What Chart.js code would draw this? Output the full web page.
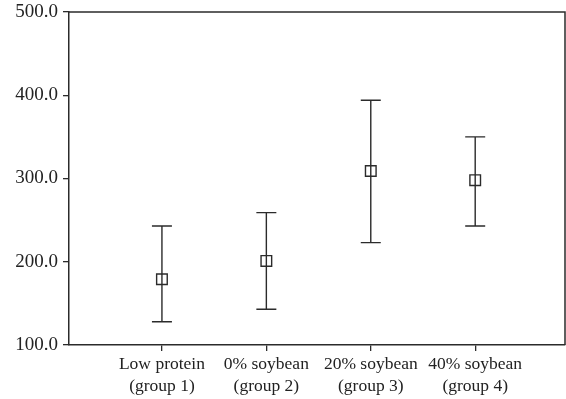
<!DOCTYPE html>
<html>
<head>
<meta charset="utf-8">
<script src="https://cdn.jsdelivr.net/npm/chart.js@4"></script>
<style>
  html, body { margin: 0; padding: 0; background: #fff; }
  #chart { display: block; }
</style>
</head>
<body>
<canvas id="chart" width="566" height="399"></canvas>
<script>
// Группы (подписи по оси X)
const categories = [
  ['Low protein', '(group 1)'],
  ['0% soybean', '(group 2)'],
  ['20% soybean', '(group 3)'],
  ['40% soybean', '(group 4)'],
];

// Средние значения и границы доверительных интервалов
const means = [179, 201, 309, 298];
const upper = [243, 259, 394, 350];
const lower = [128, 143, 223, 243];

// Деления оси Y
const yTicks = [100, 200, 300, 400, 500];

const lineColor = '#2b2b2b';
const fontFamily = '"Liberation Serif", "Times New Roman", serif';

// Плагин для рисования отрезков ошибок
const errorBarPlugin = {
  id: 'errorBars',
  beforeDatasetsDraw(chart) {
    const { ctx, scales } = chart;
    const capHalf = 10;
    ctx.save();
    ctx.strokeStyle = lineColor;
    ctx.lineWidth = 1.4;
    means.forEach((m, i) => {
      const x = scales.x.getPixelForValue(i + 1);
      const yHi = scales.y.getPixelForValue(upper[i]);
      const yLo = scales.y.getPixelForValue(lower[i]);
      ctx.beginPath();
      ctx.moveTo(x, yHi);
      ctx.lineTo(x, yLo);
      ctx.moveTo(x - capHalf, yHi);
      ctx.lineTo(x + capHalf, yHi);
      ctx.moveTo(x - capHalf, yLo);
      ctx.lineTo(x + capHalf, yLo);
      ctx.stroke();
    });
    ctx.restore();
  },
};

// Рамка вокруг области графика
const chartAreaBorder = {
  id: 'chartAreaBorder',
  afterDraw(chart) {
    const { ctx, chartArea: { left, top, right, bottom } } = chart;
    ctx.save();
    ctx.strokeStyle = lineColor;
    ctx.lineWidth = 1.5;
    ctx.beginPath();
    ctx.moveTo(left, top);
    ctx.lineTo(right, top);
    ctx.lineTo(right, bottom);
    ctx.stroke();
    ctx.restore();
  },
};

const ctx = document.getElementById('chart').getContext('2d');
new Chart(ctx, {
  type: 'scatter',
  data: {
    datasets: [{
      data: means.map((m, i) => ({ x: i + 1, y: m })),
      pointStyle: 'rect',
      pointRadius: 7.5,
      pointHoverRadius: 7.5,
      borderColor: lineColor,
      backgroundColor: 'rgba(0,0,0,0)',
      borderWidth: 1.4,
    }],
  },
  options: {
    animation: false,
    responsive: false,
    events: [],
    layout: {
      autoPadding: false,
      padding: { top: 12, right: 1, left: 0, bottom: 0 },
    },
    plugins: {
      legend: { display: false },
      tooltip: { enabled: false },
    },
    scales: {
      x: {
        type: 'linear',
        min: 0.11,
        max: 4.86,
        afterBuildTicks: (scale) => {
          scale.ticks = categories.map((c, i) => ({ value: i + 1 }));
        },
        afterFit: (scale) => {
          scale.height = 54;
          scale.paddingLeft = 0;
          scale.paddingRight = 0;
        },
        grid: {
          drawOnChartArea: false,
          drawTicks: true,
          tickLength: 6,
          color: lineColor,
          lineWidth: 1.3,
        },
        border: { display: true, color: lineColor, width: 1.5 },
        ticks: {
          autoSkip: false,
          maxRotation: 0,
          minRotation: 0,
          padding: 3,
          color: '#222',
          font: { family: fontFamily, size: 17.5, lineHeight: 1.22 },
          callback: (value) => categories[value - 1] || '',
        },
      },
      y: {
        min: 100,
        max: 500,
        afterBuildTicks: (scale) => {
          scale.ticks = yTicks.map((v) => ({ value: v }));
        },
        afterFit: (scale) => {
          scale.width = 69;
          scale.paddingTop = 0;
          scale.paddingBottom = 0;
        },
        grid: {
          drawOnChartArea: false,
          drawTicks: true,
          tickLength: 6,
          color: lineColor,
          lineWidth: 1.3,
        },
        border: { display: true, color: lineColor, width: 1.5 },
        ticks: {
          padding: 5,
          color: '#222',
          font: { family: fontFamily, size: 19 },
          callback: (value) => value.toFixed(1),
        },
      },
    },
  },
  plugins: [errorBarPlugin, chartAreaBorder],
});
</script>
</body>
</html>
